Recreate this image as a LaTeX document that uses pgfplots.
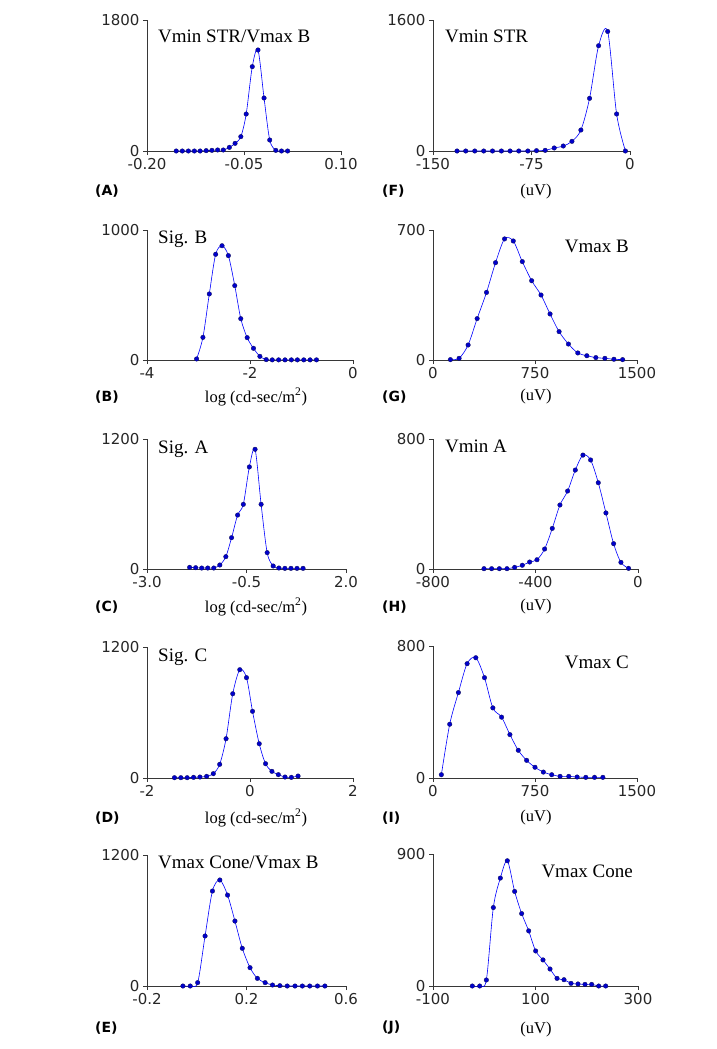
\documentclass[border=0pt]{standalone}
\usepackage{pgfplots}
\pgfplotsset{compat=1.18}
\usepackage{fontspec}
\setmainfont{Liberation Serif}
\newfontfamily\tickfont{DejaVu Sans}
\definecolor{lineblue}{RGB}{50,50,140}
\definecolor{markblue}{RGB}{15,15,85}
\definecolor{axisgray}{RGB}{55,55,55}
\pgfplotsset{panel/.style={
  scale only axis, anchor=south west,
  axis x line=bottom, axis y line=left,
  axis line style={-, draw=axisgray, line width=0.8pt},
  tick align=outside, major tick length=4pt,
  every tick/.style={draw=axisgray, line width=0.8pt},
  ymin=0, scaled ticks=false, clip mode=individual,
  ticklabel style={font=\tickfont\fontsize{15}{17}\selectfont, text=black!85},
  /pgf/number format/assume math mode=true,
  every axis plot/.append style={smooth, color=lineblue, line width=0.6pt,
     mark=diamond*, mark size=2.3pt, mark options={fill=markblue, draw=markblue, line width=0.3pt}},
}}
\newcommand{\ttl}{\fontsize{19}{21}\selectfont}
\newcommand{\xl}{\fontsize{16.5}{18}\selectfont}
\newcommand{\pl}{\tickfont\bfseries\fontsize{14}{16}\selectfont}
\begin{document}
\begin{tikzpicture}
\path[use as bounding box] (0,0) rectangle (716pt,-1049pt);
% ---------- A
\begin{axis}[panel, at={(147pt,-151pt)}, width=194pt, height=131pt,
  xmin=-0.2, xmax=0.1, ymax=1800, xtick={-0.2,-0.05,0.1}, xticklabels={-0.20,-0.05,0.10},
  ytick={0,1800}, yticklabels={0,1800}]
\addplot coordinates {(-0.1548,0) (-0.1454,0) (-0.136,0) (-0.1267,0) (-0.1178,0) (-0.1085,5) (-0.0996,9) (-0.0908,14) (-0.082,14) (-0.0726,50) (-0.0638,105) (-0.0549,197) (-0.0466,508) (-0.0372,1159) (-0.0284,1388) (-0.019,728) (-0.0102,151) (-0.0008,9) (0.008,0) (0.0174,0)};
\end{axis}
% ---------- F
\begin{axis}[panel, at={(433pt,-151pt)}, width=197pt, height=131pt,
  xmin=-150, xmax=0, ymax=1600, xtick={-150,-75,0}, xticklabels={-150,-75,0},
  ytick={0,1600}, yticklabels={0,1600}]
\addplot coordinates {(-131.7,0) (-125.1,0) (-118.2,0) (-111.4,0) (-104.7,0) (-97.9,0) (-91.3,0) (-84.7,0) (-77.8,0) (-71.2,4) (-64.6,8) (-57.7,37) (-50.8,61) (-44.2,118) (-37.4,256) (-30.8,643) (-23.9,1286) (-17.0,1460) (-10.2,452) (-3.5,0)};
\end{axis}
% ---------- B
\begin{axis}[panel, at={(147pt,-360pt)}, width=206pt, height=130pt,
  xmin=-4, xmax=0, ymax=1000, xtick={-4,-2,0}, xticklabels={-4,-2,0},
  ytick={0,1000}, yticklabels={0,1000}]
\addplot coordinates {(-3.037,8) (-2.914,174) (-2.790,508) (-2.667,813) (-2.543,879) (-2.420,803) (-2.296,572) (-2.179,318) (-2.055,172) (-1.932,90) (-1.808,28) (-1.685,3) (-1.568,1) (-1.444,1) (-1.320,1) (-1.197,1) (-1.080,1) (-0.956,1) (-0.833,1) (-0.709,1)};
\end{axis}
% ---------- G
\begin{axis}[panel, at={(433pt,-360pt)}, width=204pt, height=130pt,
  xmin=0, xmax=1500, ymax=700, xtick={0,750,1500}, xticklabels={0,750,1500},
  ytick={0,700}, yticklabels={0,700}]
\addplot coordinates {(127.9,2) (191.8,9) (258.2,81) (324.6,223) (393.4,364) (459.8,524) (526.2,652) (590.1,641) (656.5,530) (725.4,427) (794.2,350) (860.6,248) (927.0,153) (995.8,86) (1064.7,38) (1131.1,23) (1197.5,13) (1263.9,9) (1330.3,4) (1394.2,2)};
\end{axis}
% ---------- C
\begin{axis}[panel, at={(147pt,-569pt)}, width=199pt, height=130pt,
  xmin=-3, xmax=2, ymax=1200, xtick={-3,-0.5,2}, xticklabels={-3.0,-0.5,2.0},
  ytick={0,1200}, yticklabels={0,1200}]
\addplot coordinates {(-1.929,15) (-1.777,12) (-1.626,9) (-1.474,9) (-1.322,9) (-1.170,37) (-1.019,114) (-0.875,289) (-0.723,498) (-0.580,597) (-0.428,942) (-0.285,1105) (-0.133,597) (0.019,151) (0.170,28) (0.314,9) (0.465,6) (0.617,6) (0.769,6) (0.921,6)};
\end{axis}
% ---------- H
\begin{axis}[panel, at={(433pt,-569pt)}, width=205pt, height=130pt,
  xmin=-800, xmax=0, ymax=800, xtick={-800,-400,0}, xticklabels={-800,-400,0},
  ytick={0,800}, yticklabels={0,800}]
\addplot coordinates {(-601,2) (-571.1,2) (-541.2,2) (-511.3,2) (-481.4,10) (-451.5,23) (-422.9,43) (-394.3,57) (-364.4,123) (-334.5,250) (-304.6,394) (-274.6,480) (-244.7,609) (-214.8,701) (-184.9,671) (-155.0,531) (-125.1,345) (-95.2,156) (-66.6,41) (-36.7,4)};
\end{axis}
% ---------- D
\begin{axis}[panel, at={(147pt,-778pt)}, width=206pt, height=131pt,
  xmin=-2, xmax=2, ymax=1200, xtick={-2,0,2}, xticklabels={-2,0,2},
  ytick={0,1200}, yticklabels={0,1200}]
\addplot coordinates {(-1.467,3) (-1.343,3) (-1.220,3) (-1.096,6) (-0.972,9) (-0.842,15) (-0.712,40) (-0.589,125) (-0.465,360) (-0.335,772) (-0.198,992) (-0.068,919) (0.049,611) (0.179,314) (0.302,131) (0.426,61) (0.550,31) (0.680,9) (0.803,6) (0.933,18)};
\end{axis}
% ---------- I
\begin{axis}[panel, at={(433pt,-778pt)}, width=204pt, height=132pt,
  xmin=0, xmax=1500, ymax=800, xtick={0,750,1500}, xticklabels={0,750,1500},
  ytick={0,800}, yticklabels={0,800}]
\addplot coordinates {(61.5,20) (122.9,326) (186.9,518) (250.8,693) (314.7,729) (378.7,608) (440.1,425) (504.1,369) (565.5,263) (627.0,168) (688.5,107) (749.9,65) (811.4,36) (872.9,20) (934.3,10) (998.3,10) (1059.7,6) (1123.7,4) (1187.6,4) (1249.1,4)};
\end{axis}
% ---------- E
\begin{axis}[panel, at={(147pt,-986pt)}, width=199pt, height=131pt,
  xmin=-0.2, xmax=0.6, ymax=1200, xtick={-0.2,0.2,0.6}, xticklabels={-0.2,0.2,0.6},
  ytick={0,1200}, yticklabels={0,1200}]
\addplot coordinates {(-0.0557,0) (-0.026,0) (0.0037,31) (0.0334,458) (0.0631,870) (0.0928,971) (0.1238,833) (0.1535,595) (0.1831,345) (0.2142,168) (0.2438,70) (0.2749,31) (0.3046,9) (0.3342,3) (0.3639,0) (0.3949,0) (0.4246,0) (0.4543,0) (0.4853,0) (0.515,0)};
\end{axis}
% ---------- J
\begin{axis}[panel, at={(433pt,-986pt)}, width=205pt, height=132pt,
  xmin=-100, xmax=300, ymax=900, xtick={-100,100,300}, xticklabels={-100,100,300},
  ytick={0,900}, yticklabels={0,900}]
\addplot coordinates {(-23.3,0) (-8.9,0) (4.1,41) (17.7,535) (31.4,736) (45.0,854) (59.3,645) (73.0,494) (86.7,376) (100.3,239) (114.6,178) (128.3,116) (142.0,52) (155.6,43) (169.3,18) (182.9,14) (196.6,11) (209.6,11) (223.3,0) (236.9,0)};
\end{axis}
% ---------- titles
\node[anchor=base west, inner sep=0] at (158pt,-43pt) {\ttl Vmin STR/Vmax B};
\node[anchor=base west, inner sep=0] at (445pt,-43pt) {\ttl Vmin STR};
\node[anchor=base west, inner sep=0] at (158pt,-243pt) {\ttl Sig. B};
\node[anchor=base east, inner sep=0] at (629pt,-252pt) {\ttl Vmax B};
\node[anchor=base west, inner sep=0] at (158pt,-453pt) {\ttl Sig. A};
\node[anchor=base west, inner sep=0] at (445pt,-452pt) {\ttl Vmin A};
\node[anchor=base west, inner sep=0] at (158pt,-661pt) {\ttl Sig. C};
\node[anchor=base east, inner sep=0] at (629pt,-668pt) {\ttl Vmax C};
\node[anchor=base west, inner sep=0] at (158pt,-868pt) {\ttl Vmax Cone/Vmax B};
\node[anchor=base east, inner sep=0] at (633pt,-877pt) {\ttl Vmax Cone};
% ---------- panel letters
\foreach \l/\y in {A/191,B/397,C/607,D/818,E/1028}{
  \node[anchor=west, inner sep=0] at (95pt,-\y pt) {\pl(\l)};}
\foreach \l/\y in {F/191,G/397,H/607,I/818,J/1028}{
  \node[anchor=west, inner sep=0] at (382pt,-\y pt) {\pl(\l)};}
% ---------- x labels
\foreach \y in {397,607,818}{
  \node[inner sep=0] at (256pt,-\y pt) {\xl log (cd-sec/m\textsuperscript{2})};}
\foreach \y in {192,397,607,818,1030}{
  \node[inner sep=0] at (536pt,-\y pt) {\xl (uV)};}
\end{tikzpicture}
\end{document}
